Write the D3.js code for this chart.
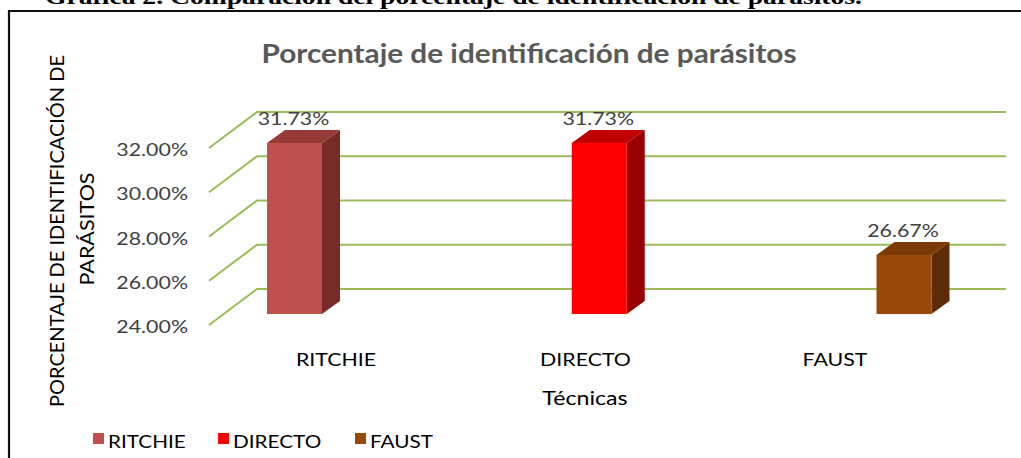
<!DOCTYPE html>
<html>
<head>
<meta charset="utf-8">
<script src="https://cdn.jsdelivr.net/npm/d3@7"></script>
<style>
  html, body { margin: 0; padding: 0; background: #ffffff; }
  svg { display: block; }
</style>
</head>
<body>
<div id="chart"></div>
<script>
// Data
const categories = ["RITCHIE", "DIRECTO", "FAUST"];
const values = [31.73, 31.73, 26.67];
const yTicks = [24, 26, 28, 30, 32];
const frontColors = ["#C0504D", "#FF0000", "#984807"];
const topColors = ["#963B38", "#C00000", "#7A3905"];
const sideColors = ["#772C2A", "#990000", "#5E2C04"];

const W = 1021, H = 458;
const FONT = "Lato, 'Open Sans', sans-serif";
const SX = 1.22; // horizontal stretch of the whole figure

const svg = d3.select("#chart").append("svg")
  .attr("width", W).attr("height", H);

// Stretched text helper
function label(g, x, y, str, opts) {
  const o = Object.assign({ size: 17, anchor: "middle", fill: "#404040", weight: "normal", rotate: 0, family: FONT }, opts || {});
  const t = g.append("text")
    .attr("transform", `translate(${x},${y}) scale(${SX},1)` + (o.rotate ? ` rotate(${o.rotate})` : ""))
    .attr("text-anchor", o.anchor)
    .attr("font-family", o.family)
    .attr("font-size", o.size)
    .attr("font-weight", o.weight)
    .attr("fill", o.fill)
    .text(str);
  if (o.length) {
    // rotated text runs vertically, so its length is not affected by the stretch
    t.attr("textLength", o.rotate ? o.length : o.length / SX).attr("lengthAdjust", "spacingAndGlyphs");
  }
  return t;
}

// Document caption above the frame
label(svg, 45, 4, "Gráfica 2. Comparación del porcentaje de identificación de parásitos.",
  { anchor: "start", size: 21, weight: "bold", fill: "#000", family: "'Liberation Serif', serif", length: 817 });

// Chart frame
svg.append("path")
  .attr("d", `M9,${H} L9,11 L${W},11`)
  .attr("fill", "none").attr("stroke", "#111").attr("stroke-width", 2.2);

// Scales
const yFront = d3.scaleLinear().domain([24, 32]).range([325, 148]);
const xBar = d3.scalePoint().domain(categories).range([294.5, 904]);
const xCat = d3.scalePoint().domain(categories).range([336, 835]);
const barW = 55;
const wall = { dx: 48, dy: -36 };       // floor front -> back wall
const barOff = { dx: 14.7, dy: -11 };   // floor front -> bar front face
const barDepth = { dx: 18, dy: -13 };   // bar front -> bar back
const wallLeft = 209, wallRight = 1006;

// Title
label(svg, 529, 63, "Porcentaje de identificación de parásitos",
  { size: 27, weight: "bold", fill: "#595959", length: 535 });

// Gridlines: side diagonal + back wall line
const grid = svg.append("g").attr("fill", "none").attr("stroke", "#9BBB59").attr("stroke-width", 2);
yTicks.forEach(t => {
  const yf = yFront(t);
  grid.append("path")
    .attr("d", `M${wallLeft},${yf} L${wallLeft + wall.dx},${yf + wall.dy} L${wallRight},${yf + wall.dy}`);
});

// Tick labels
const tickFmt = d => d3.format(".2f")(d) + "%";
yTicks.forEach(t => {
  label(svg, 188, yFront(t) + 8, tickFmt(t), { anchor: "end", size: 17.5, fill: "#404040" });
});

// Bars
const bars = svg.append("g");
categories.forEach((c, i) => {
  const x0 = xBar(c) - barW / 2, x1 = x0 + barW;
  const yb = yFront(24) + barOff.dy;
  const yt = yFront(values[i]) + barOff.dy;
  const dx = barDepth.dx, dy = barDepth.dy;
  bars.append("path") // side face
    .attr("d", `M${x1},${yt} L${x1 + dx},${yt + dy} L${x1 + dx},${yb + dy} L${x1},${yb} Z`)
    .attr("fill", sideColors[i]);
  bars.append("path") // top face
    .attr("d", `M${x0},${yt} L${x0 + dx},${yt + dy} L${x1 + dx},${yt + dy} L${x1},${yt} Z`)
    .attr("fill", topColors[i]);
  bars.append("rect") // front face
    .attr("x", x0).attr("y", yt).attr("width", barW).attr("height", yb - yt)
    .attr("fill", frontColors[i]);
  label(svg, xBar(c) - 1, yt - 18, values[i].toFixed(2) + "%", { size: 17.5, fill: "#404040" });
});

// Category labels and axis title
categories.forEach(c => label(svg, xCat(c), 366, c, { size: 17.5, fill: "#000" }));
label(svg, 585, 405, "Técnicas", { size: 19, fill: "#000" });

// Y axis title (two lines)
label(svg, 64, 231, "PORCENTAJE DE IDENTIFICACIÓN DE", { size: 16, fill: "#000", rotate: -90, length: 352 });
label(svg, 94, 229, "PARÁSITOS", { size: 16, fill: "#000", rotate: -90, length: 113 });

// Legend
const legX = [93, 218, 355];
categories.forEach((c, i) => {
  svg.append("rect").attr("x", legX[i]).attr("y", 433).attr("width", 11).attr("height", 11)
    .attr("fill", frontColors[i]);
  label(svg, legX[i] + 15, 448, c, { anchor: "start", size: 17, fill: "#000" });
});
</script>
</body>
</html>
